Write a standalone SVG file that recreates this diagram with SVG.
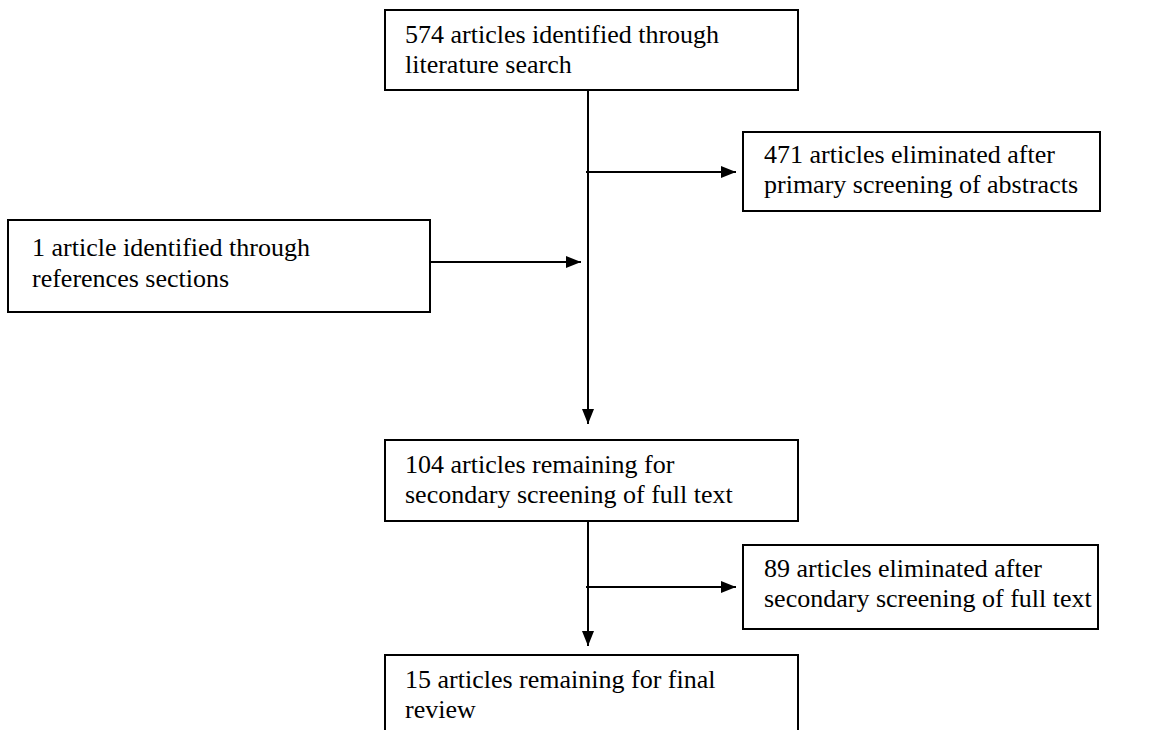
<svg xmlns="http://www.w3.org/2000/svg" width="1156" height="730" viewBox="0 0 1156 730">
<style>
.box{fill:#fff;stroke:#000;stroke-width:2}
.t{font-family:'Times New Roman',Tinos,'Liberation Serif','Noto Serif','DejaVu Serif',serif;font-size:26px;fill:#000}
.c{stroke:#000;stroke-width:2;fill:none}
</style>
<defs>
<marker id="ah" markerWidth="15" markerHeight="12" refX="15" refY="6" orient="auto" markerUnits="userSpaceOnUse">
<path d="M0,0 L15,6 L0,12 Z" fill="#000"/>
</marker>
</defs>
<rect width="1156" height="730" fill="#fff"/>
<g id="connectors">
<line class="c" x1="588" y1="90" x2="588" y2="424" marker-end="url(#ah)"/>
<line class="c" x1="586" y1="172" x2="736" y2="172" marker-end="url(#ah)"/>
<line class="c" x1="430" y1="262" x2="581" y2="262" marker-end="url(#ah)"/>
<line class="c" x1="588" y1="521" x2="588" y2="646" marker-end="url(#ah)"/>
<line class="c" x1="586" y1="587" x2="736" y2="587" marker-end="url(#ah)"/>
</g>
<g id="n574">
<rect class="box" x="385" y="10" width="413" height="80"/>
<text class="t" x="405" y="43">574 articles identified through</text>
<text class="t" x="405" y="73">literature search</text>
</g>
<g id="n471">
<rect class="box" x="743" y="132" width="357" height="79"/>
<text class="t" x="764" y="163">471 articles eliminated after</text>
<text class="t" x="764" y="193">primary screening of abstracts</text>
</g>
<g id="n1">
<rect class="box" x="8" y="220" width="422" height="92"/>
<text class="t" x="32" y="256">1 article identified through</text>
<text class="t" x="32" y="287">references sections</text>
</g>
<g id="n104">
<rect class="box" x="385" y="440" width="413" height="81"/>
<text class="t" x="405" y="473">104 articles remaining for</text>
<text class="t" x="405" y="503">secondary screening of full text</text>
</g>
<g id="n89">
<rect class="box" x="743" y="545" width="355" height="84"/>
<text class="t" x="764" y="577">89 articles eliminated after</text>
<text class="t" x="764" y="607">secondary screening of full text</text>
</g>
<g id="n15">
<rect class="box" x="385" y="655" width="413" height="100"/>
<text class="t" x="405" y="688">15 articles remaining for final</text>
<text class="t" x="405" y="718">review</text>
</g>
</svg>
